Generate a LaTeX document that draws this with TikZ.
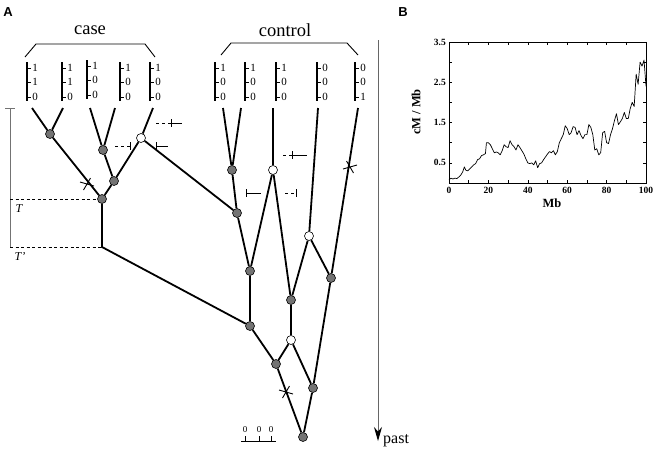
\documentclass[tikz,border=0pt]{standalone}
\usepackage{fontspec}
\setmainfont{Liberation Serif}
\newfontfamily\labelfont{Liberation Sans}
\usetikzlibrary{arrows.meta}
\tikzset{
  pics/hap/.style n args={3}{code={
    \draw[line width=2pt] (0,-6) -- (0,33);
    \foreach \yy in {0,14,29} \draw[line width=0.9pt] (0,\yy) -- (4,\yy);
    \node[digit] (-a) at (8,0) {#1};
    \node[digit] (-b) at (8,14) {#2};
    \node[digit] (-c) at (8,29) {#3};
  }},
  pics/cross/.style={code={
    \draw[line width=0.9pt] (-7,-2) -- (7,2) (-3.5,6) -- (3.5,-6);
  }},
}
\begin{document}
\begin{tikzpicture}[x=1pt,y=-1pt,
  edge/.style={line width=1.8pt},
  gnode/.style={circle,draw=black,line width=0.6pt,fill=black!55,inner sep=0pt,minimum size=9pt},
  wnode/.style={gnode,fill=white},
  digit/.style={font=\fontsize{11}{11}\selectfont,inner sep=0pt},
  title/.style={font=\fontsize{18.5}{18.5}\selectfont,inner sep=0pt},
  panel/.style={font=\labelfont\bfseries\fontsize{13}{13}\selectfont,inner sep=0pt},
  mut/.style={line width=0.8pt},
  mutd/.style={line width=0.8pt,dash pattern=on 3pt off 3pt},
  ticklab/.style={font=\bfseries\fontsize{9.5}{9.5}\selectfont,inner sep=1pt},
  axlab/.style={font=\bfseries\fontsize{12.5}{12.5}\selectfont,inner sep=0pt},
]
\useasboundingbox (0,0) rectangle (656,456);

% panel labels
\node[panel] (pa) at (8,12) {A};
\node[panel] (pb) at (403,12) {B};

% brackets and group titles
\node[title] (case) at (90,30) {case};
\node[title] (ctrl) at (285,30) {control};
\draw[line width=0.9pt] (25,57) -- (36,44) -- (145,44) -- (155,57);
\draw[line width=0.9pt] (221,55) -- (231,43) -- (347,43) -- (358,55);

% haplotypes
\pic (h1) at (27,68) {hap={1}{1}{0}};
\pic (h2) at (62,68) {hap={1}{1}{0}};
\pic (h3) at (87,66) {hap={1}{0}{0}};
\pic (h4) at (120,68) {hap={1}{0}{0}};
\pic (h5) at (150,68) {hap={1}{0}{0}};
\pic (h6) at (215,68) {hap={1}{0}{0}};
\pic (h7) at (245,68) {hap={1}{0}{0}};
\pic (h8) at (276,68) {hap={1}{0}{0}};
\pic (h9) at (317,68) {hap={0}{0}{0}};
\pic (h10) at (355,68) {hap={0}{0}{1}};

% leaf tops
\coordinate (c1) at (32,108);
\coordinate (c2) at (63,108);
\coordinate (c3) at (90,108);
\coordinate (c4) at (115,108);
\coordinate (c5) at (153,108);
\coordinate (k1) at (223,108);
\coordinate (k2) at (241,108);
\coordinate (k3) at (273,108);
\coordinate (k4) at (318,108);
\coordinate (k5) at (358,108);
\coordinate (e1) at (102,247);

% tree nodes
\node[gnode] (A) at (50,134) {};
\node[gnode] (B) at (103,150) {};
\node[wnode] (C) at (141,138) {};
\node[gnode] (D) at (114,181) {};
\node[gnode] (E) at (102,199) {};
\node[gnode] (F) at (232,170) {};
\node[wnode] (G) at (273,170) {};
\node[gnode] (H) at (237,213) {};
\node[wnode] (I) at (309,236) {};
\node[gnode] (J) at (250,271) {};
\node[gnode] (K) at (331,278) {};
\node[gnode] (L) at (291,300) {};
\node[gnode] (M) at (250,326) {};
\node[wnode] (N) at (291,340) {};
\node[gnode] (O) at (276,364) {};
\node[gnode] (P) at (313,388) {};
\node[gnode] (Q) at (303,437) {};

% edges
\draw[edge] (c1) -- (A);
\draw[edge] (c2) -- (A);
\draw[edge] (c3) -- (B);
\draw[edge] (c4) -- (B);
\draw[edge] (c5) -- (C);
\draw[edge] (A) -- (E);
\draw[edge] (B) -- (D);
\draw[edge] (C) -- (D);
\draw[edge] (D) -- (E);
\draw[edge] (E) -- (e1) -- (M);
\draw[edge] (C) -- (H);
\draw[edge] (k1) -- (F);
\draw[edge] (k2) -- (F);
\draw[edge] (k3) -- (G);
\draw[edge] (F) -- (H);
\draw[edge] (H) -- (J);
\draw[edge] (G) -- (J);
\draw[edge] (G) -- (L);
\draw[edge] (k4) -- (I);
\draw[edge] (I) -- (L);
\draw[edge] (I) -- (K);
\draw[edge] (k5) -- (K);
\draw[edge] (J) -- (M);
\draw[edge] (L) -- (N);
\draw[edge] (M) -- (O);
\draw[edge] (N) -- (O);
\draw[edge] (N) -- (P);
\draw[edge] (K) -- (P);
\draw[edge] (O) -- (Q);
\draw[edge] (P) -- (Q);

% crosses (mutations on branches)
\pic at (87,184) {cross};
\pic[xscale=-1] at (350,167) {cross};
\pic at (286,392) {cross};

% recombination marks
\draw[mutd] (115,146) -- (130,146);
\draw[mut] (130,142) -- (130,150);
\draw[mut] (156,142) -- (156,150) (156,146) -- (168,146);
\draw[mutd] (156,123) -- (171,123);
\draw[mut] (171,119) -- (171,127) (171,123) -- (182,123);
\draw[mutd] (283,155) -- (292,155);
\draw[mut] (292,151) -- (292,159) (292,155) -- (307,155);
\draw[mut] (246,189) -- (246,197) (246,193) -- (261,193);
\draw[mutd] (285,193) -- (296,193);
\draw[mut] (296,189) -- (296,197);

% time scale on the left
\draw[black!55,line width=0.8pt] (5,108) -- (15,108) (10,108) -- (10,247);
\draw[line width=0.6pt,dash pattern=on 3pt off 2.5pt] (10,199) -- (E);
\draw[line width=0.6pt,dash pattern=on 3pt off 2.5pt] (10,247) -- (e1);
\node[font=\itshape\fontsize{12}{12}\selectfont,inner sep=0pt] (tT) at (19,209) {T};
\node[font=\itshape\fontsize{12}{12}\selectfont,inner sep=0pt] (tT2) at (20,257) {T'};

% past arrow
\coordinate (pt) at (378,40);
\coordinate (pb2) at (378,441);
\draw[black!60,line width=1pt,-{Stealth[length=14pt,width=8pt,black]}] (pt) -- (pb2);
\node[font=\fontsize{16}{16}\selectfont,inner sep=0pt,anchor=west] (past) at (383,441) {past};

% scale bar
\draw[line width=0.8pt] (241,441) -- (276,441);
\foreach \xx in {245,259,271} \draw[line width=0.8pt] (\xx,441) -- (\xx,436);
\foreach \xx/\nm in {245/s1,259/s2,271/s3} \node[font=\fontsize{9}{9}\selectfont,inner sep=0pt] (\nm) at (\xx,430) {0};

% panel B plot
\begin{scope}[shift={(449,183)},xscale=1.97,yscale=-40.3]
  \draw[line width=0.6pt] (0,0) rectangle (100,3.5);
  \foreach \t in {0,10,...,100} {
    \draw[line width=0.5pt] (\t,0) -- (\t,0.07);
    \draw[line width=0.5pt] (\t,3.5) -- (\t,3.43);
  }
  \foreach \v in {0.5,1.0,...,3.0} {
    \draw[line width=0.5pt] (0,\v) -- (1.5,\v);
    \draw[line width=0.5pt] (100,\v) -- (98.5,\v);
  }
  \foreach \t in {0,20,40,60,80,100} \node[ticklab,anchor=north] at (\t,-0.08) {\t};
  \foreach \v in {0.5,1.5,2.5,3.5} \node[ticklab,anchor=east] at (-1,\v) {\v};
  \draw[line width=0.7pt,line join=round] plot coordinates {
   (0,0.08) (1,0.12) (2,0.10) (3,0.12) (4,0.11) (5,0.15) (6,0.2) (7,0.28) (7.8,0.4) (8.5,0.32)
   (9.5,0.3) (10.5,0.35) (11.5,0.4) (12.5,0.45) (13.5,0.48) (14.5,0.58) (15.5,0.6) (16.5,0.68)
   (17.5,0.7) (18.5,0.73) (19,1.0) (20,1.0) (21,0.95) (22,0.85) (23,0.75) (24,0.77) (25,0.75)
   (26,0.7) (27,0.8) (28,0.95) (29,0.9) (30,0.88) (31,1.05) (32,0.95) (33,0.9) (34,0.82)
   (35,0.95) (36,0.88) (37,0.8) (38,0.72) (39,0.6) (40,0.5) (41,0.48) (42,0.5) (43,0.45)
   (44,0.55) (45,0.38) (46,0.48) (47,0.5) (48,0.58) (49,0.65) (50,0.72) (51,0.78) (52,0.75)
   (53,0.8) (54,0.7) (55,0.78) (56,1.0) (57,1.1) (58,1.2) (59,1.42) (60,1.35) (61,1.2)
   (62,1.25) (63,1.4) (64,1.38) (65,1.2) (66,1.3) (67,1.18) (68,1.1) (69,1.2) (70,1.2)
   (71,1.45) (72,1.38) (73,1.2) (74,0.82) (75,0.85) (76,0.7) (77,0.75) (78,1.25) (79,1.28)
   (80,1.0) (81,0.98) (82,1.2) (83,1.35) (84,1.55) (85,1.72) (86,1.45) (87,1.52) (88,1.6)
   (89,1.75) (90,1.6) (91,1.6) (92,1.85) (93,2.0) (94,1.9) (95,2.7) (96,2.45) (97,3.0)
   (98,2.9) (99,3.05) (100,2.4)};
\end{scope}
\node[axlab,rotate=90] (ylab) at (416,112) {cM / Mb};
\node[axlab] (xlab) at (552,203) {Mb};
\end{tikzpicture}
\end{document}
